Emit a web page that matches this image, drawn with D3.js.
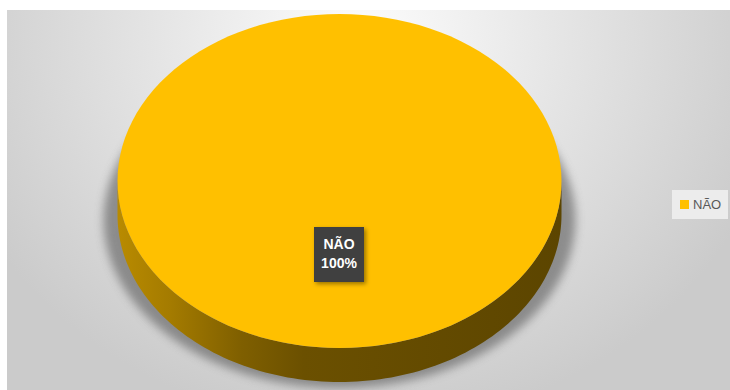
<!DOCTYPE html>
<html>
<head>
<meta charset="utf-8">
<script src="https://cdn.jsdelivr.net/npm/d3@7"></script>
<style>
  html, body { margin: 0; padding: 0; background: #ffffff; }
  svg { display: block; }
</style>
</head>
<body>
<svg id="chart" width="730" height="390"></svg>
<script>
// Answers and their share of responses
const categories = ["NÃO"];
const values = [100];
const labels = ["100%"];
const sliceColors = ["#FFC000"];

const W = 730, H = 390;
const svg = d3.select("#chart");
const defs = svg.append("defs");

// Chart area background: soft radial fade from near-white to light gray
const bg = defs.append("radialGradient").attr("id", "bgGrad")
  .attr("gradientUnits", "userSpaceOnUse")
  .attr("cx", 360).attr("cy", 40).attr("r", 430)
  .attr("gradientTransform", "translate(360,40) scale(1,0.9) translate(-360,-40)");
bg.append("stop").attr("offset", "0%").attr("stop-color", "#fdfdfd");
bg.append("stop").attr("offset", "45%").attr("stop-color", "#e6e6e6");
bg.append("stop").attr("offset", "100%").attr("stop-color", "#cbcbcb");

// Side wall shading of the 3D disc
const side = defs.append("linearGradient").attr("id", "sideGrad")
  .attr("gradientUnits", "userSpaceOnUse")
  .attr("x1", 117).attr("x2", 562).attr("y1", 0).attr("y2", 0);
[["0%", "#b98b00"], ["12%", "#a47b00"], ["28%", "#7f5f00"], ["42%", "#6b5000"], ["100%", "#5c4500"]]
  .forEach(([o, c]) => side.append("stop").attr("offset", o).attr("stop-color", c));

const blur = defs.append("filter").attr("id", "softShadow")
  .attr("x", "-20%").attr("y", "-20%").attr("width", "140%").attr("height", "140%");
blur.append("feGaussianBlur").attr("stdDeviation", 5);

const boxShadow = defs.append("filter").attr("id", "boxShadow")
  .attr("x", "-30%").attr("y", "-30%").attr("width", "160%").attr("height", "160%");
boxShadow.append("feDropShadow").attr("dx", 2).attr("dy", 2)
  .attr("stdDeviation", 2).attr("flood-color", "#000").attr("flood-opacity", 0.4);

svg.append("rect").attr("x", 7).attr("y", 10).attr("width", W - 7).attr("height", H - 10)
  .attr("fill", "url(#bgGrad)");

// Disc geometry
const cx = 339.5, cy = 181, rx = 222, ry = 167, depth = 34;
const pt = (a, dy = 0, ex = 0, ey = 0) =>
  [cx + (rx + ex) * Math.sin(a), cy + dy - (ry + ey) * Math.cos(a)];

const pie = d3.pie().sort(null).value(d => d)(values);

function ellipseArc(a0, a1, dy = 0, ex = 0, ey = 0, n = 120) {
  return d3.range(n + 1).map(i => pt(a0 + (a1 - a0) * i / n, dy, ex, ey));
}

function topPath(d) {
  const full = d.endAngle - d.startAngle >= 2 * Math.PI - 1e-6;
  let p = d3.line()(ellipseArc(d.startAngle, d.endAngle));
  p += full ? "Z" : `L${cx},${cy}Z`;
  return p;
}

function sidePath(d) {
  // only the front half of the wall (angles between 90° and 270°) is visible
  const a0 = Math.max(d.startAngle, Math.PI / 2);
  const a1 = Math.min(d.endAngle, 3 * Math.PI / 2);
  if (a1 <= a0) return null;
  const upper = ellipseArc(a0, a1);
  const lower = ellipseArc(a0, a1, depth).reverse();
  return d3.line()(upper.concat(lower)) + "Z";
}

// Soft shadow cast below the disc
svg.append("path")
  .attr("d", d3.line()(ellipseArc(Math.PI / 2, 3 * Math.PI / 2, depth + 4, 14, 2)
    .concat(ellipseArc(3 * Math.PI / 2, 5 * Math.PI / 2, 40, 14, 2))) + "Z")
  .attr("fill", "#5a5a5a").attr("opacity", 0.6)
  .attr("filter", "url(#softShadow)");

const g = svg.append("g");
g.selectAll("path.side").data(pie).join("path")
  .attr("class", "side")
  .attr("d", sidePath)
  .attr("fill", "url(#sideGrad)");

g.selectAll("path.top").data(pie).join("path")
  .attr("class", "top")
  .attr("d", topPath)
  .attr("fill", (d, i) => sliceColors[i]);

// Data label
const lab = svg.selectAll("g.lab").data(pie).join("g").attr("class", "lab")
  .attr("transform", "translate(339,254)");
lab.append("rect").attr("x", -25).attr("y", -27).attr("width", 50).attr("height", 55)
  .attr("fill", "#404040").attr("filter", "url(#boxShadow)");
lab.append("text").attr("y", -5).attr("text-anchor", "middle")
  .attr("font-family", "Liberation Sans, Arial, sans-serif").attr("font-weight", "bold")
  .attr("font-size", 14).attr("fill", "#ffffff")
  .text((d, i) => categories[i]);
lab.append("text").attr("y", 14).attr("text-anchor", "middle")
  .attr("font-family", "Liberation Sans, Arial, sans-serif").attr("font-weight", "bold")
  .attr("font-size", 14).attr("fill", "#ffffff")
  .text((d, i) => labels[i]);

// Legend
const legend = svg.append("g").attr("transform", "translate(672,190)");
legend.append("rect").attr("width", 56).attr("height", 29).attr("fill", "#ececec");
const items = legend.selectAll("g.item").data(categories).join("g").attr("class", "item");
items.append("rect").attr("x", 8).attr("y", 10).attr("width", 9).attr("height", 9)
  .attr("fill", (d, i) => sliceColors[i]);
items.append("text").attr("x", 21).attr("y", 19)
  .attr("font-family", "Liberation Sans, Arial, sans-serif").attr("font-size", 13)
  .attr("fill", "#595959").text(d => d);
</script>
</body>
</html>
